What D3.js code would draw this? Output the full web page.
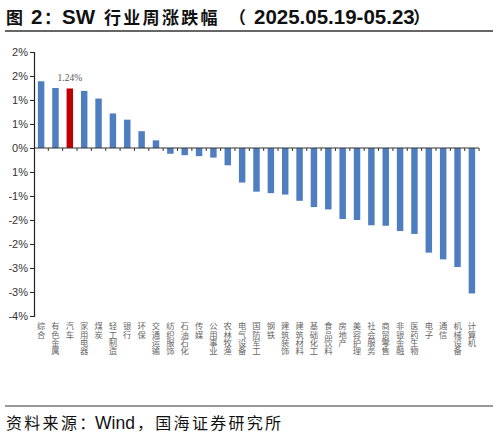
<!DOCTYPE html>
<html><head><meta charset="utf-8">
<script src="https://cdn.jsdelivr.net/npm/d3@7"></script>
<style>body{margin:0;background:#fff}svg{display:block}</style>
</head><body>
<svg id="c" width="498" height="437"></svg>
<script>
const categories = ["综合","有色金属","汽车","家用电器","煤炭","轻工制造","银行","环保","交通运输","纺织服饰","石油石化","传媒","公用事业","农林牧渔","电气设备","国防军工","钢铁","建筑装饰","建筑材料","基础化工","食品饮料","房地产","美容护理","社会服务","商贸零售","非银金融","医药生物","电子","通信","机械设备","计算机"];
const values = [1.39,1.25,1.24,1.19,1.03,0.72,0.59,0.35,0.16,-0.12,-0.15,-0.17,-0.20,-0.36,-0.72,-0.91,-0.94,-0.97,-1.10,-1.23,-1.28,-1.48,-1.50,-1.61,-1.62,-1.73,-1.79,-2.18,-2.32,-2.48,-3.03];
const highlight = "汽车";
const tickValues = [2.0,1.5,1.0,0.5,0,-0.5,-1.0,-1.5,-2.0,-2.5,-3.0,-3.5];
const tickLabels = ["2%","2%","1%","1%","0%","1%","-1%","-2%","-2%","-3%","-3%","-4%"];
const titleParts = [
  {t:"图", x:6, latin:false},
  {t:"2", x:31, latin:true},
  {t:"：", x:44, latin:false},
  {t:"SW", x:62, latin:true},
  {t:"行业周涨跌幅", x:104, latin:false, ls:2.3},
  {t:"（", x:229, latin:false},
  {t:"2025.05.19-05.23", x:254, latin:true},
  {t:"）", x:413, latin:false}
];
const sourceParts = [
  {t:"资料来源：", x:6, latin:false},
  {t:"Wind", x:95, latin:true},
  {t:"，国海证券研究所", x:137, latin:false}
];

const svg = d3.select("#c");
const x = d3.scaleBand().domain(categories).range([34, 479]).paddingInner(0.55).paddingOuter(0.27);
const y = d3.scaleLinear().domain([-3.5, 2.0]).range([316, 52]);

// title
const tt = svg.append("text").attr("y", 24).attr("font-weight", "bold").attr("fill", "#111");
titleParts.forEach(p => {
  tt.append("tspan").attr("x", p.x)
    .attr("font-family", p.latin ? "'Liberation Sans', Arial, sans-serif" : "'Noto Sans CJK SC', sans-serif")
    .attr("font-size", p.latin ? 20.5 : 17)
    .attr("letter-spacing", p.ls || 0)
    .text(p.t);
});
svg.append("line").attr("x1", 5).attr("x2", 493).attr("y1", 31).attr("y2", 31)
  .attr("stroke", "#333").attr("stroke-width", 1.5);

// bars
svg.append("g").selectAll("rect").data(values).join("rect")
  .attr("x", (d, i) => x(categories[i]))
  .attr("width", x.bandwidth())
  .attr("y", d => y(Math.max(0, d)))
  .attr("height", d => Math.abs(y(d) - y(0)))
  .attr("fill", (d, i) => categories[i] === highlight ? "#C00000" : "#4F7EC0");

// y axis
const yAxis = d3.axisLeft(y).tickValues(tickValues).tickSize(4).tickPadding(2)
  .tickFormat((d, i) => tickLabels[i]);
const gy = svg.append("g").attr("transform", "translate(34,0)").call(yAxis);
gy.select(".domain").attr("stroke", "#222").attr("stroke-width", 1.2);
gy.selectAll(".tick line").attr("stroke", "#222");
gy.selectAll(".tick text").attr("font-family", "'Liberation Sans', Arial, sans-serif")
  .attr("font-size", 11).attr("fill", "#333");

// x axis at zero
const step = x.step();
const xAxisG = svg.append("g").attr("transform", `translate(0,${y(0)})`);
xAxisG.append("line").attr("x1", 34).attr("x2", 479).attr("y1", 0).attr("y2", 0)
  .attr("stroke", "#333").attr("stroke-width", 1.2);
const boundaries = categories.map(c => x(c) + x.bandwidth() + (step - x.bandwidth()) / 2);
xAxisG.selectAll("line.tk").data(boundaries).join("line").attr("class", "tk")
  .attr("x1", d => d).attr("x2", d => d).attr("y1", 0).attr("y2", 3)
  .attr("stroke", "#333").attr("stroke-width", 1);

// category labels, vertical
svg.append("g").selectAll("text").data(categories).join("text")
  .attr("x", c => x(c) + x.bandwidth() / 2)
  .attr("y", 322)
  .attr("font-family", "'Noto Sans CJK SC', sans-serif")
  .attr("font-size", 8.3).attr("fill", "#666")
  .style("writing-mode", "vertical-rl").style("text-orientation", "upright")
  .text(c => c);

// data label
const hi = categories.indexOf(highlight);
svg.append("text").attr("x", x(highlight) + x.bandwidth() / 2).attr("y", y(values[hi]) - 7)
  .attr("text-anchor", "middle").attr("font-family", "'Liberation Serif', serif")
  .attr("font-size", 9.5).attr("fill", "#555").text(values[hi].toFixed(2) + "%");

// footer
svg.append("line").attr("x1", 5).attr("x2", 493).attr("y1", 406).attr("y2", 406)
  .attr("stroke", "#333").attr("stroke-width", 1.2);
const ft = svg.append("text").attr("y", 429).attr("fill", "#111");
sourceParts.forEach(p => {
  ft.append("tspan").attr("x", p.x)
    .attr("font-family", p.latin ? "'Liberation Sans', Arial, sans-serif" : "'Noto Sans CJK SC', sans-serif")
    .attr("font-size", p.latin ? 17.5 : 16)
    .attr("letter-spacing", p.latin ? 0 : 2.3)
    .text(p.t);
});
</script>
</body></html>
